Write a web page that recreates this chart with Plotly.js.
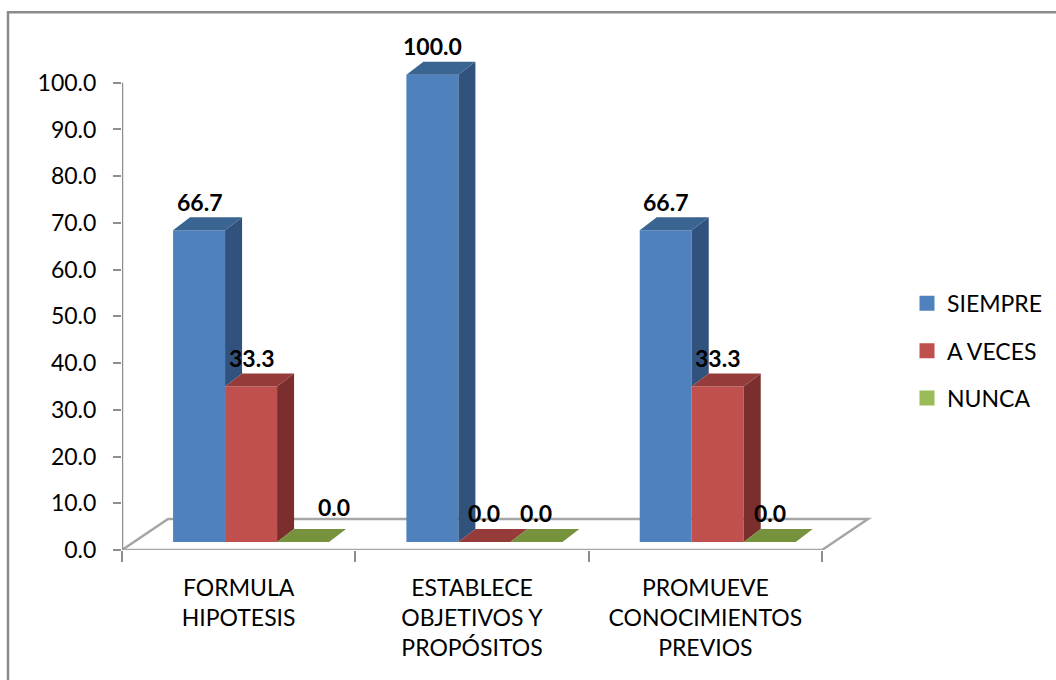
<!DOCTYPE html>
<html>
<head>
<meta charset="utf-8">
<script src="https://cdn.plot.ly/plotly-3.0.1.min.js"></script>
<style>html,body{margin:0;padding:0;background:#fff;overflow:hidden}</style>
</head>
<body>
<div id="chart" style="width:1056px;height:680px"></div>
<script>
var categories = ["FORMULA<br>HIPOTESIS", "ESTABLECE<br>OBJETIVOS Y<br>PROPÓSITOS", "PROMUEVE<br>CONOCIMIENTOS<br>PREVIOS"];
var siempre = [66.7, 100.0, 66.7];
var aVeces = [33.3, 0.0, 33.3];
var nunca = [0.0, 0.0, 0.0];
var seriesNames = ["SIEMPRE", "A VECES", "NUNCA"];
var yTicks = [0, 10, 20, 30, 40, 50, 60, 70, 80, 90, 100];

var FONT = "Lato, Carlito, sans-serif";
var seriesValues = [siempre, aVeces, nunca];
var frontColors = ["#4F81BD", "#C0504D", "#9BBB59"];
var sideColors = ["#30527C", "#7A2F2E", "#5F7A30"];
var topColors = ["#3A6491", "#953B39", "#76923C"];

var W = 1056, H = 680, L = 122, R0 = 822, T0 = 83, B = 550;
var pxX = (R0 - L) / 3, pxY = (B - T0) / 100;
var R = W, xMax = (R - L) / pxX, yMax = 110;
var T = B - yMax * pxY;
var barW = 52 / pxX, groupShift = 12.4 / pxX, base = 8 / pxY;
var depthX = 17 / pxX, depthY = 13 / pxY;
var floorX = 46 / pxX, floorY = 31 / pxY;
var gray = "#8E8E8E", lightGray = "#A6A6A6";

function barLeft(cat, s) { return cat + 0.5 + groupShift + (s - 1.5) * barW; }
function paperX(px) { return (px - L) / (R - L); }
function paperY(px) { return (B - px) / (B - T); }

var traces = [];
seriesValues.forEach(function (vals, s) {
  traces.push({
    type: "bar", name: seriesNames[s], showlegend: false,
    x: vals.map(function (v, c) { return barLeft(c, s) + barW / 2; }),
    y: vals, base: vals.map(function () { return base; }), width: barW,
    marker: { color: frontColors[s], line: { width: 0 } }, cliponaxis: false,
    hoverinfo: "name+y"
  });
});
seriesValues.forEach(function (vals, s) {
  var sx = [], sy = [], tx = [], ty = [];
  vals.forEach(function (v, c) {
    var x0 = barLeft(c, s), x1 = x0 + barW, top = base + v;
    var next = s < seriesValues.length - 1 ? seriesValues[s + 1][c] : 0;
    var low = base + Math.min(next, v);
    sx.push(x1, x1 + depthX, x1 + depthX, x1, x1, null);
    sy.push(top, top + depthY, low + depthY, low, top, null);
    tx.push(x0, x1, x1 + depthX, x0 + depthX, x0, null);
    ty.push(top, top, top + depthY, top + depthY, top, null);
  });
  traces.push({ type: "scatter", mode: "lines", x: sx, y: sy, fill: "toself", fillcolor: sideColors[s],
    line: { width: 0 }, showlegend: false, hoverinfo: "skip", cliponaxis: false });
  traces.push({ type: "scatter", mode: "lines", x: tx, y: ty, fill: "toself", fillcolor: topColors[s],
    line: { width: 0 }, showlegend: false, hoverinfo: "skip", cliponaxis: false });
});
// axis lines that stop at the last tick, while the plot area leaves room for the depth
traces.push({ type: "scatter", mode: "lines", x: [0, 3], y: [0, 0], line: { color: lightGray, width: 2.5 },
  showlegend: false, hoverinfo: "skip", cliponaxis: false });
traces.push({ type: "scatter", mode: "lines", x: [0, 0], y: [0, 100], line: { color: gray, width: 2.5 },
  showlegend: false, hoverinfo: "skip", cliponaxis: false });
seriesNames.forEach(function (n, s) {
  traces.push({ type: "scatter", mode: "markers", name: n, x: [null], y: [null], legendgroup: n,
    marker: { symbol: "square", size: 15, color: frontColors[s] }, showlegend: true });
});

var nudges = { "0-2": [31, 6] };
var annotations = [];
seriesValues.forEach(function (vals, s) {
  vals.forEach(function (v, c) {
    var n = nudges[c + "-" + s] || [0, 0];
    annotations.push({
      xref: "x", yref: "y", x: barLeft(c, s) + barW / 2, y: base + v + depthY,
      text: v.toFixed(1), showarrow: false, xanchor: "center", yanchor: "middle",
      xshift: n[0], yshift: 15.5 + n[1],
      font: { family: FONT, size: 23, color: "#000", weight: 700 }
    });
  });
});

var shapes = [
  { type: "path", xref: "x", yref: "y", layer: "below", line: { color: lightGray, width: 2.5 },
    path: "M 0 0 L " + floorX + " " + floorY + " L " + (3 + floorX) + " " + floorY + " L 3 0" },
  { type: "rect", xref: "paper", yref: "paper", layer: "below", line: { color: "#8C8C8C", width: 2.5 },
    x0: paperX(8), x1: paperX(1100), y0: paperY(720), y1: paperY(12.5) }
];

var layout = {
  width: W, height: H, autosize: false,
  margin: { l: L, r: 0, t: T, b: H - B, pad: 0 },
  paper_bgcolor: "#fff", plot_bgcolor: "rgba(0,0,0,0)",
  barmode: "overlay", showlegend: true,
  font: { family: FONT, size: 23, color: "#000" },
  xaxis: {
    range: [0, xMax], showgrid: false, zeroline: false, showline: false,
    tickmode: "array", tickvals: [0.5, 1.5, 2.5], ticktext: categories, ticks: "",
    minor: { tickmode: "array", tickvals: [0, 1, 2, 3], ticks: "outside", ticklen: 11, tickwidth: 2, tickcolor: gray },
    ticklabelstandoff: 22,
    tickangle: 0, tickfont: { family: FONT, size: 23, color: "#000" }
  },
  yaxis: {
    range: [0, yMax], showgrid: false, zeroline: false, showline: false,
    tickmode: "array", tickvals: yTicks, tickformat: ".1f", ticks: "outside", ticklen: 8, tickwidth: 2, tickcolor: gray,
    ticklabelstandoff: 12,
    tickfont: { family: FONT, size: 23, color: "#000" }
  },
  legend: {
    x: paperX(907), y: paperY(282), xanchor: "left", yanchor: "top",
    bgcolor: "rgba(0,0,0,0)", borderwidth: 0, itemwidth: 30, tracegroupgap: 14.5,
    font: { family: FONT, size: 23, color: "#000" }
  },
  shapes: shapes, annotations: annotations
};
Plotly.newPlot("chart", traces, layout, { displayModeBar: false, responsive: false });
</script>
</body>
</html>
